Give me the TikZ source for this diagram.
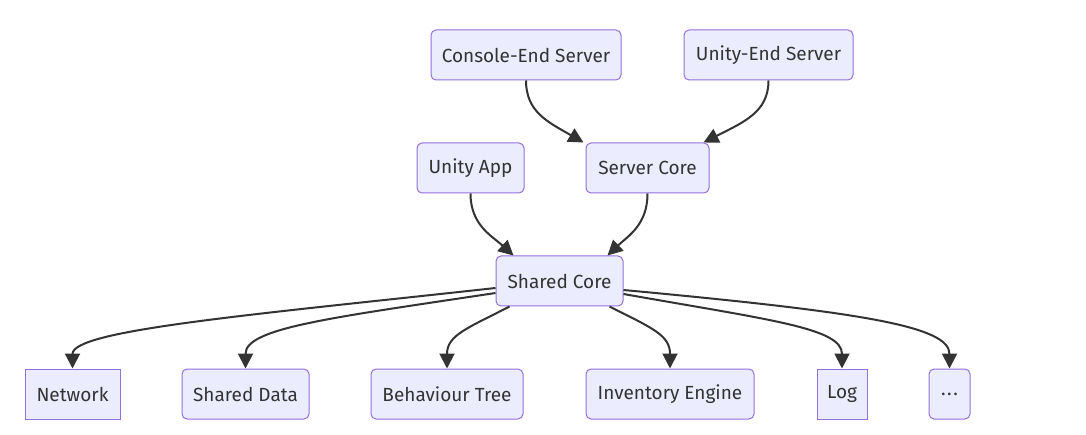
\documentclass[tikz,border=0pt]{standalone}
\usepackage{fontspec}
\setmainfont{Fira Sans}
\usetikzlibrary{arrows.meta,calc}
\definecolor{nodefill}{HTML}{ECECFF}
\definecolor{nodeline}{HTML}{9370DB}
\definecolor{ink}{HTML}{333333}
\begin{document}
\begin{tikzpicture}[x=1pt,y=-1pt,
  box/.style={draw=nodeline,fill=nodefill,line width=1pt,rounded corners=5pt,
    minimum height=50pt,inner sep=0pt,text=ink,font=\fontsize{19}{22}\selectfont},
  sqbox/.style={box,rounded corners=0pt},
  edge/.style={draw=ink,line width=2pt,-{Triangle[length=15pt,width=15pt]}}]
\useasboundingbox (0,0) rectangle (1086,435);
\fill[white] (0,0) rectangle (1086,435);
\node[box,minimum width=190pt] (ce) at (526,55) {Console-End Server};
\node[box,minimum width=169pt] (ue) at (768.5,55) {Unity-End Server};
\node[box,minimum width=107pt] (ua) at (470.5,168) {Unity App};
\node[box,minimum width=123pt] (scr) at (647.5,168) {Server Core};
\node[box,minimum width=127pt] (shc) at (559.5,281) {Shared Core};
\node[sqbox,minimum width=95pt] (net) at (72.5,394) {Network};
\node[box,minimum width=127pt] (sd) at (245.5,394) {Shared Data};
\node[box,minimum width=152pt] (bt) at (447,394) {Behaviour Tree};
\node[box,minimum width=168pt] (ie) at (670,394) {Inventory Engine};
\node[sqbox,minimum width=50pt] (log) at (842,394) {Log};
\node[box,minimum width=41pt] (dots) at (949.5,394) {.\kern1.5pt.\kern1.5pt.};

\draw[edge] (ce.south) .. controls (526,112) and (548,122) .. ($(scr.north west)+(-2,0)$);
\draw[edge] (ue.south) .. controls (768.5,112) and (744,122) .. ($(scr.north east)+(-6,0)$);
\draw[edge] (ua.south) .. controls (470.5,225) and (492,236) .. ($(shc.north west)+(18,0)$);
\draw[edge] (scr.south) .. controls (647.5,225) and (628,236) .. ($(shc.north east)+(-16,0)$);
\draw[edge] ($(shc.west)+(0,7)$) .. controls (250,315) and (72.5,330) .. (net.north);
\draw[edge] ($(shc.west)+(0,12)$) .. controls (330,318) and (245.5,328) .. (sd.north);
\draw[edge] ($(shc.south west)+(14,0)$) .. controls (468,328) and (447,335) .. (bt.north);
\draw[edge] ($(shc.south east)+(-14,0)$) .. controls (652,328) and (670,335) .. (ie.north);
\draw[edge] ($(shc.east)+(0,13)$) .. controls (770,320) and (842,328) .. (log.north);
\draw[edge] ($(shc.east)+(0,9)$) .. controls (860,312) and (949.5,326) .. (dots.north);
\end{tikzpicture}
\end{document}
